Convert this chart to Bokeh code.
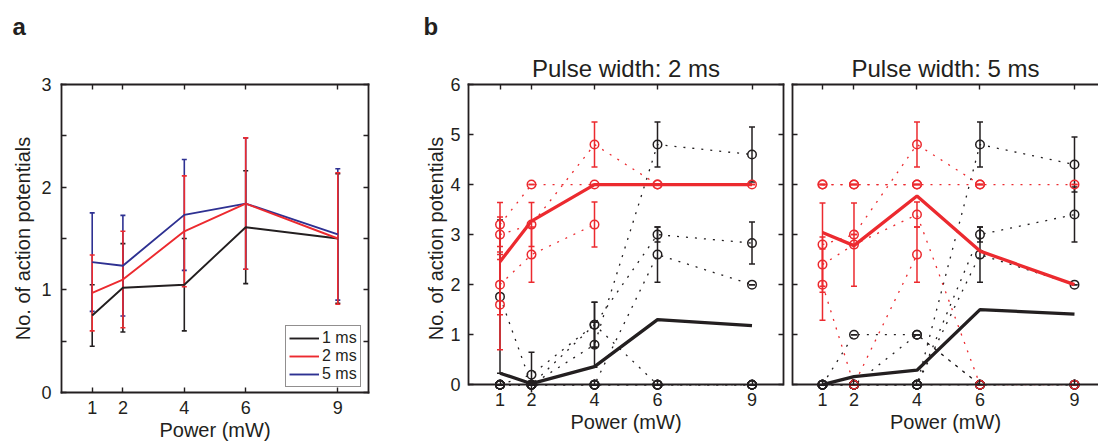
import math
from bokeh.plotting import figure
from bokeh.models import FixedTicker, LinearAxis, Legend, LegendItem, Range1d, Title
from bokeh.layouts import row
from bokeh.embed import file_html
from bokeh.resources import INLINE

nan = math.nan

# ---------------- data ----------------
power = [1, 2, 4, 6, 9]

# panel a : mean +/- error for three pulse widths
a_labels = ["1 ms", "2 ms", "5 ms"]
a_mean_1ms = [0.75, 1.02, 1.05, 1.61, 1.50]
a_err_1ms = [0.30, 0.43, 0.45, 0.55, 0.63]
a_mean_2ms = [0.97, 1.10, 1.57, 1.84, 1.50]
a_err_2ms = [0.37, 0.47, 0.54, 0.64, 0.64]
a_mean_5ms = [1.27, 1.235, 1.73, 1.84, 1.54]
a_err_5ms = [0.48, 0.49, 0.54, 0.64, 0.64]

# panel b, pulse width 2 ms : individual cells (rows) and their error
b2_red_cells = [
    [3.2, 4.0, 4.0, 4.0, 4.0],
    [3.0, 3.2, 4.8, 4.0, nan],
    [2.0, 2.6, 3.2, nan, nan],
    [1.6, nan, nan, nan, nan],
]
b2_red_err = [
    [0.44, 0.0, 0.0, 0.0, 0.0],
    [0.35, 0.44, 0.45, 0.0, nan],
    [0.60, 0.55, 0.45, nan, nan],
    [0.90, nan, nan, nan, nan],
]
b2_black_cells = [
    [1.76, 0.0, 0.0, 0.0, 0.0],
    [0.0, 0.2, 1.2, 3.0, 2.83],
    [0.0, 0.0, 0.8, 4.8, 4.6],
    [0.0, 0.0, 0.0, 2.6, 2.0],
    [0.0, 0.0, 1.2, 0.0, 0.0],
    [0.0, 0.0, 0.0, 0.0, 0.0],
    [0.0, 0.0, 0.0, 0.0, 0.0],
    [0.0, 0.0, 0.0, 0.0, 0.0],
]
b2_black_err = [
    [1.53, 0.0, 0.0, 0.0, 0.0],
    [0.0, 0.45, 0.45, 0.15, 0.42],
    [0.0, 0.0, 0.45, 0.45, 0.55],
    [0.0, 0.0, 0.0, 0.55, 0.0],
    [0.0, 0.0, 0.45, 0.0, 0.0],
    [0.0, 0.0, 0.0, 0.0, 0.0],
    [0.0, 0.0, 0.0, 0.0, 0.0],
    [0.0, 0.0, 0.0, 0.0, 0.0],
]
b2_red_mean = [2.46, 3.27, 4.0, 4.0, 4.0]
b2_black_mean = [0.23, 0.02, 0.36, 1.30, 1.18]

# panel b, pulse width 5 ms
b5_red_cells = [
    [4.0, 4.0, 4.0, 4.0, 4.0],
    [4.0, 4.0, 4.0, nan, nan],
    [2.8, 3.0, 4.8, 4.0, nan],
    [2.4, 2.8, 3.4, 0.0, 0.0],
    [2.0, 0.0, 2.6, nan, nan],
]
b5_red_err = [
    [0.0, 0.0, 0.0, 0.0, 0.0],
    [0.0, 0.0, 0.0, nan, nan],
    [0.83, 0.0, 0.45, 0.0, nan],
    [0.55, 0.83, 0.25, 0.0, 0.0],
    [0.71, 0.0, 0.55, nan, nan],
]
b5_black_cells = [
    [0.0, 1.0, 1.0, 0.0, 0.0],
    [0.0, 0.0, 1.0, 0.0, 0.0],
    [0.0, 0.0, 0.0, 4.8, 4.4],
    [0.0, 0.0, 0.0, 3.0, 3.4],
    [0.0, 0.0, 0.0, 2.6, 2.0],
    [0.0, 0.0, 0.0, 0.0, 0.0],
    [0.0, 0.0, 0.0, 0.0, 0.0],
]
b5_black_err = [
    [0.0, 0.0, 0.0, 0.0, 0.0],
    [0.0, 0.0, 0.0, 0.0, 0.0],
    [0.0, 0.0, 0.0, 0.45, 0.55],
    [0.0, 0.0, 0.0, 0.15, 0.55],
    [0.0, 0.0, 0.0, 0.55, 0.0],
    [0.0, 0.0, 0.0, 0.0, 0.0],
    [0.0, 0.0, 0.0, 0.0, 0.0],
]
b5_red_mean = [3.04, 2.78, 3.77, 2.67, 2.0]
b5_black_mean = [0.0, 0.16, 0.29, 1.50, 1.41]

a_y_ticks = [0, 1, 2, 3]
a_y_minor = [0.5, 1.5, 2.5]
b_y_ticks = [0, 1, 2, 3, 4, 5, 6]

# ---------------- style ----------------
INK = "#231F20"
RED = "#EC2A2F"
BLUE = "#2E3192"
FONT = "Liberation Sans"
Y_LABEL = "No. of action potentials"
X_LABEL = "Power (mW)"


def style_axis(ax, ticks, minor=None, show_labels=True, standoff=8, show_ticks=True):
    ax.ticker = FixedTicker(ticks=ticks, minor_ticks=minor if minor else [])
    ax.axis_line_color = INK
    ax.axis_line_width = 1.8
    ax.axis_line_cap = "square"
    ax.major_tick_in = 5 if show_ticks else 0
    ax.major_tick_out = 0
    ax.major_tick_line_color = INK
    ax.major_tick_line_width = 1.4
    ax.minor_tick_in = 5 if (minor and show_ticks) else 0
    ax.minor_tick_out = 0
    ax.minor_tick_line_color = INK
    ax.minor_tick_line_width = 1.4
    ax.major_label_text_font = FONT
    ax.major_label_text_color = INK
    if show_labels:
        ax.major_label_text_font_size = "18px"
        ax.major_label_standoff = standoff
    else:
        ax.major_label_overrides = {t: "" for t in ticks}
        ax.major_label_text_font_size = "0px"
        ax.major_label_standoff = 0
    ax.axis_label_text_font = FONT
    ax.axis_label_text_font_size = "20px"
    ax.axis_label_text_font_style = "normal"
    ax.axis_label_text_color = INK


def make_fig(width, left, right, xr, yr, bottom):
    p = figure(width=width, height=446, x_range=xr, y_range=yr,
               output_backend="svg", toolbar_location=None,
               min_border_left=left, min_border_right=right,
               min_border_top=84, min_border_bottom=bottom)
    p.outline_line_color = None
    p.xgrid.visible = False
    p.ygrid.visible = False
    p.background_fill_color = "white"
    p.border_fill_color = "white"
    return p


def add_title(p, text, align, offset, standoff, bold, valign="bottom"):
    p.add_layout(Title(text=text, align=align, offset=offset, standoff=standoff,
                       vertical_align=valign,
                       text_font=FONT, text_font_size="24px",
                       text_font_style="bold" if bold else "normal",
                       text_color=INK), "above")


def draw_errorbars(p, xs, ys, es, color, cap, lw):
    lo = [y - e for y, e in zip(ys, es)]
    hi = [y + e for y, e in zip(ys, es)]
    p.segment(xs, lo, xs, hi, line_color=color, line_width=lw)
    p.scatter(xs + xs, lo + hi, marker="dash", size=cap, line_color=color, line_width=lw)


def draw_cells(p, cells, errs, color):
    xs, ys, es = [], [], []
    for c, e in zip(cells, errs):
        for x, y, d in zip(power, c, e):
            if not math.isnan(y):
                xs.append(x)
                ys.append(y)
                es.append(d)
    draw_errorbars(p, xs, ys, es, color, 6, 1.5)
    p.scatter(xs, ys, marker="circle", size=8.5, fill_color=None,
              line_color=color, line_width=1.5)


def draw_dotted(p, cells, color):
    for c in cells:
        p.line(power, c, line_color=color, line_width=1.3, line_dash="2 7")


# ---------------- panel a ----------------
pa = make_fig(378, 61, 10, Range1d(0, 10), Range1d(0, 3), 54)
style_axis(pa.below[0], power, standoff=8)
pa.below[0].axis_label = X_LABEL
pa.below[0].axis_label_standoff = 2
style_axis(pa.left[0], a_y_ticks, a_y_minor, standoff=10)
pa.left[0].axis_label = Y_LABEL
pa.left[0].axis_label_standoff = 4
ta = LinearAxis()
style_axis(ta, power, show_labels=False)
pa.add_layout(ta, "above")
ra = LinearAxis()
style_axis(ra, a_y_ticks, a_y_minor, show_labels=False)
pa.add_layout(ra, "right")

draw_errorbars(pa, power, a_mean_1ms, a_err_1ms, INK, 5, 1.6)
draw_errorbars(pa, power, a_mean_5ms, a_err_5ms, BLUE, 5, 1.6)
draw_errorbars(pa, power, a_mean_2ms, a_err_2ms, RED, 5, 1.6)
l1 = pa.line(power, a_mean_1ms, line_color=INK, line_width=1.9)
l5 = pa.line(power, a_mean_5ms, line_color=BLUE, line_width=1.9)
l2 = pa.line(power, a_mean_2ms, line_color=RED, line_width=1.9)

legend = Legend(items=[LegendItem(label=a_labels[0], renderers=[l1]),
                       LegendItem(label=a_labels[1], renderers=[l2]),
                       LegendItem(label=a_labels[2], renderers=[l5])],
                location=(224, 5), margin=0, padding=3, spacing=-5,
                glyph_width=30, glyph_height=14, label_height=14, label_standoff=3,
                label_text_font=FONT, label_text_font_size="16px", label_text_color=INK,
                border_line_color=INK, border_line_width=1.6,
                background_fill_color="white", background_fill_alpha=1.0)
pa.add_layout(legend)
add_title(pa, " ", "center", 0, 5, False)          # spacer, same height as panel b titles
add_title(pa, "a", "left", -49, 18, True, "top")

# ---------------- panel b ----------------
ylow = -8 / 51.333


def make_b(width, left, right, xr, show_ylabels, right_axis):
    p = make_fig(width, left, right, xr, Range1d(ylow, 6), 46)
    # box line and inner ticks at y = 0
    style_axis(p.below[0], power, show_labels=False)
    p.below[0].fixed_location = 0
    # tick labels and axis label under the box
    lab = LinearAxis()
    style_axis(lab, power, standoff=0, show_ticks=False)
    lab.axis_line_color = None
    lab.axis_label = X_LABEL
    lab.axis_label_standoff = 2
    p.add_layout(lab, "below")
    style_axis(p.left[0], b_y_ticks, show_labels=show_ylabels, standoff=8)
    p.left[0].bounds = (0, 6)
    t = LinearAxis()
    style_axis(t, power, show_labels=False)
    p.add_layout(t, "above")
    if right_axis:
        r = LinearAxis()
        style_axis(r, b_y_ticks, show_labels=False)
        r.bounds = (0, 6)
        p.add_layout(r, "right")
    return p


def fill_b(p, red_cells, red_err, black_cells, black_err, red_mean, black_mean):
    draw_dotted(p, black_cells, INK)
    draw_dotted(p, red_cells, RED)
    draw_cells(p, black_cells, black_err, INK)
    draw_cells(p, red_cells, red_err, RED)
    p.line(power, black_mean, line_color=INK, line_width=3.3)
    p.line(power, red_mean, line_color=RED, line_width=3.3)


pb1 = make_b(410, 90, 5, Range1d(0, 10), True, True)
pb1.left[0].axis_label = Y_LABEL
pb1.left[0].axis_label_standoff = 0
fill_b(pb1, b2_red_cells, b2_red_err, b2_black_cells, b2_black_err, b2_red_mean, b2_black_mean)
add_title(pb1, "Pulse width: 2 ms", "center", 0, 5, False)
add_title(pb1, "b", "left", -45, 18, True, "top")

pb2 = make_b(310, 4, 0, Range1d(0.048, 9.762), False, False)
fill_b(pb2, b5_red_cells, b5_red_err, b5_black_cells, b5_black_err, b5_red_mean, b5_black_mean)
add_title(pb2, "Pulse width: 5 ms", "center", 0, 5, False)

layout = row(pa, pb1, pb2)
open("out.html", "w").write(file_html(layout, INLINE))
